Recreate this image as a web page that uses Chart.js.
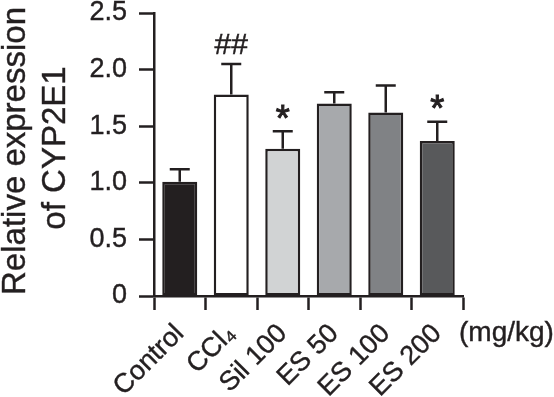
<!DOCTYPE html>
<html>
<head>
<meta charset="utf-8">
<script src="https://cdn.jsdelivr.net/npm/chart.js@4.4.0/dist/chart.umd.min.js"></script>
<style>
  html, body { margin: 0; padding: 0; background: #fff; }
  #wrap { width: 554px; height: 397px; }
</style>
</head>
<body>
<div id="wrap"><canvas id="cyp"></canvas></div>
<script>
const groups = ["Control", "CCl\u2084", "Sil 100", "ES 50", "ES 100", "ES 200"];
const means = [1.01, 1.78, 1.30, 1.70, 1.62, 1.37];
const sems = [0.11, 0.27, 0.155, 0.10, 0.24, 0.17];
const marks = ["", "##", "*", "", "", "*"];
const fills = ["#231f20", "#ffffff", "#d1d3d4", "#a7a9ac", "#808285", "#58595b"];
const yTickLabels = ["0", "0.5", "1.0", "1.5", "2.0", "2.5"];
const yTitle = ["Relative expression", "of CYP2E1"];
const unitLabel = "(mg/kg)";

const ink = "#231f20";
const fontFam = "'Liberation Sans', Arial, Helvetica, sans-serif";
Chart.defaults.font.family = fontFam;
Chart.defaults.color = ink;

function heavyText(ctx, txt, x, y, w) {
  ctx.lineWidth = w || 0.4;
  ctx.strokeStyle = ink;
  ctx.strokeText(txt, x, y);
  ctx.fillText(txt, x, y);
}

// error bars (upper only) + significance marks
const errorBarPlugin = {
  id: "errorBars",
  afterDatasetsDraw(chart) {
    const ctx = chart.ctx;
    const meta = chart.getDatasetMeta(0);
    const y = chart.scales.y;
    ctx.save();
    meta.data.forEach((bar, i) => {
      const top = y.getPixelForValue(means[i] + sems[i]);
      const base = y.getPixelForValue(means[i]);
      ctx.strokeStyle = ink;
      ctx.lineWidth = 2.5;
      ctx.beginPath();
      ctx.moveTo(bar.x, base);
      ctx.lineTo(bar.x, top);
      ctx.moveTo(bar.x - 10, top);
      ctx.lineTo(bar.x + 10, top);
      ctx.stroke();

      if (marks[i]) {
        ctx.fillStyle = ink;
        ctx.textAlign = "center";
        ctx.textBaseline = "alphabetic";
        ctx.font = (marks[i] === "*" ? "36px " : "30px ") + fontFam;
        // centre the glyph itself about 19px above the cap
        const m = ctx.measureText(marks[i]);
        const mid = top - 19.5;
        const baseY = mid + (m.actualBoundingBoxAscent - m.actualBoundingBoxDescent) / 2;
        heavyText(ctx, marks[i], bar.x, baseY, marks[i] === "*" ? 1 : 0.5);
      }
    });
    ctx.restore();
  }
};

// rotated two-line y title and the unit label
const labelsPlugin = {
  id: "extraLabels",
  afterDraw(chart) {
    const ctx = chart.ctx;
    ctx.save();
    ctx.fillStyle = ink;
    ctx.font = "33px " + fontFam;
    ctx.textAlign = "center";
    ctx.textBaseline = "alphabetic";
    ctx.translate(25, 151);
    ctx.rotate(-Math.PI / 2);
    heavyText(ctx, yTitle[0], 0, 0);
    heavyText(ctx, yTitle[1], 3, 40);
    ctx.restore();

    ctx.save();
    ctx.fillStyle = ink;
    ctx.font = "28px " + fontFam;
    ctx.textAlign = "left";
    ctx.textBaseline = "alphabetic";
    heavyText(ctx, unitLabel, 459, 341);
    ctx.restore();
  }
};

new Chart(document.getElementById("cyp").getContext("2d"), {
  type: "bar",
  data: {
    labels: groups,
    datasets: [{
      data: means,
      backgroundColor: fills,
      borderColor: ink,
      borderWidth: 2.5,
      borderSkipped: false,
      barPercentage: 0.68,
      categoryPercentage: 1.0
    }]
  },
  options: {
    responsive: true,
    maintainAspectRatio: false,
    animation: false,
    layout: { padding: { top: 13, right: 91, left: 0, bottom: 0 } },
    plugins: {
      legend: { display: false },
      tooltip: { enabled: false },
      title: { display: false }
    },
    scales: {
      x: {
        afterFit: (s) => { s.height = 101; },
        grid: {
          offset: true,
          drawOnChartArea: false,
          drawTicks: true,
          tickLength: 14,
          tickWidth: 2.5,
          tickColor: ink
        },
        border: { display: true, color: ink, width: 2.5 },
        ticks: {
          autoSkip: false,
          minRotation: 45,
          maxRotation: 45,
          padding: 8,
          color: ink,
          textStrokeColor: ink,
          textStrokeWidth: 0.4,
          font: { size: 27 }
        }
      },
      y: {
        min: 0,
        max: 2.5,
        afterFit: (s) => { s.width = 154; s.paddingTop = 0; },
        grid: {
          drawOnChartArea: false,
          drawTicks: true,
          tickLength: 15,
          tickWidth: 2.5,
          tickColor: ink
        },
        border: { display: true, color: ink, width: 2.5 },
        ticks: {
          stepSize: 0.5,
          padding: 12,
          color: ink,
          textStrokeColor: ink,
          textStrokeWidth: 0.4,
          font: { size: 27 },
          callback: (v, i) => yTickLabels[i]
        }
      }
    }
  },
  plugins: [errorBarPlugin, labelsPlugin]
});
</script>
</body>
</html>
